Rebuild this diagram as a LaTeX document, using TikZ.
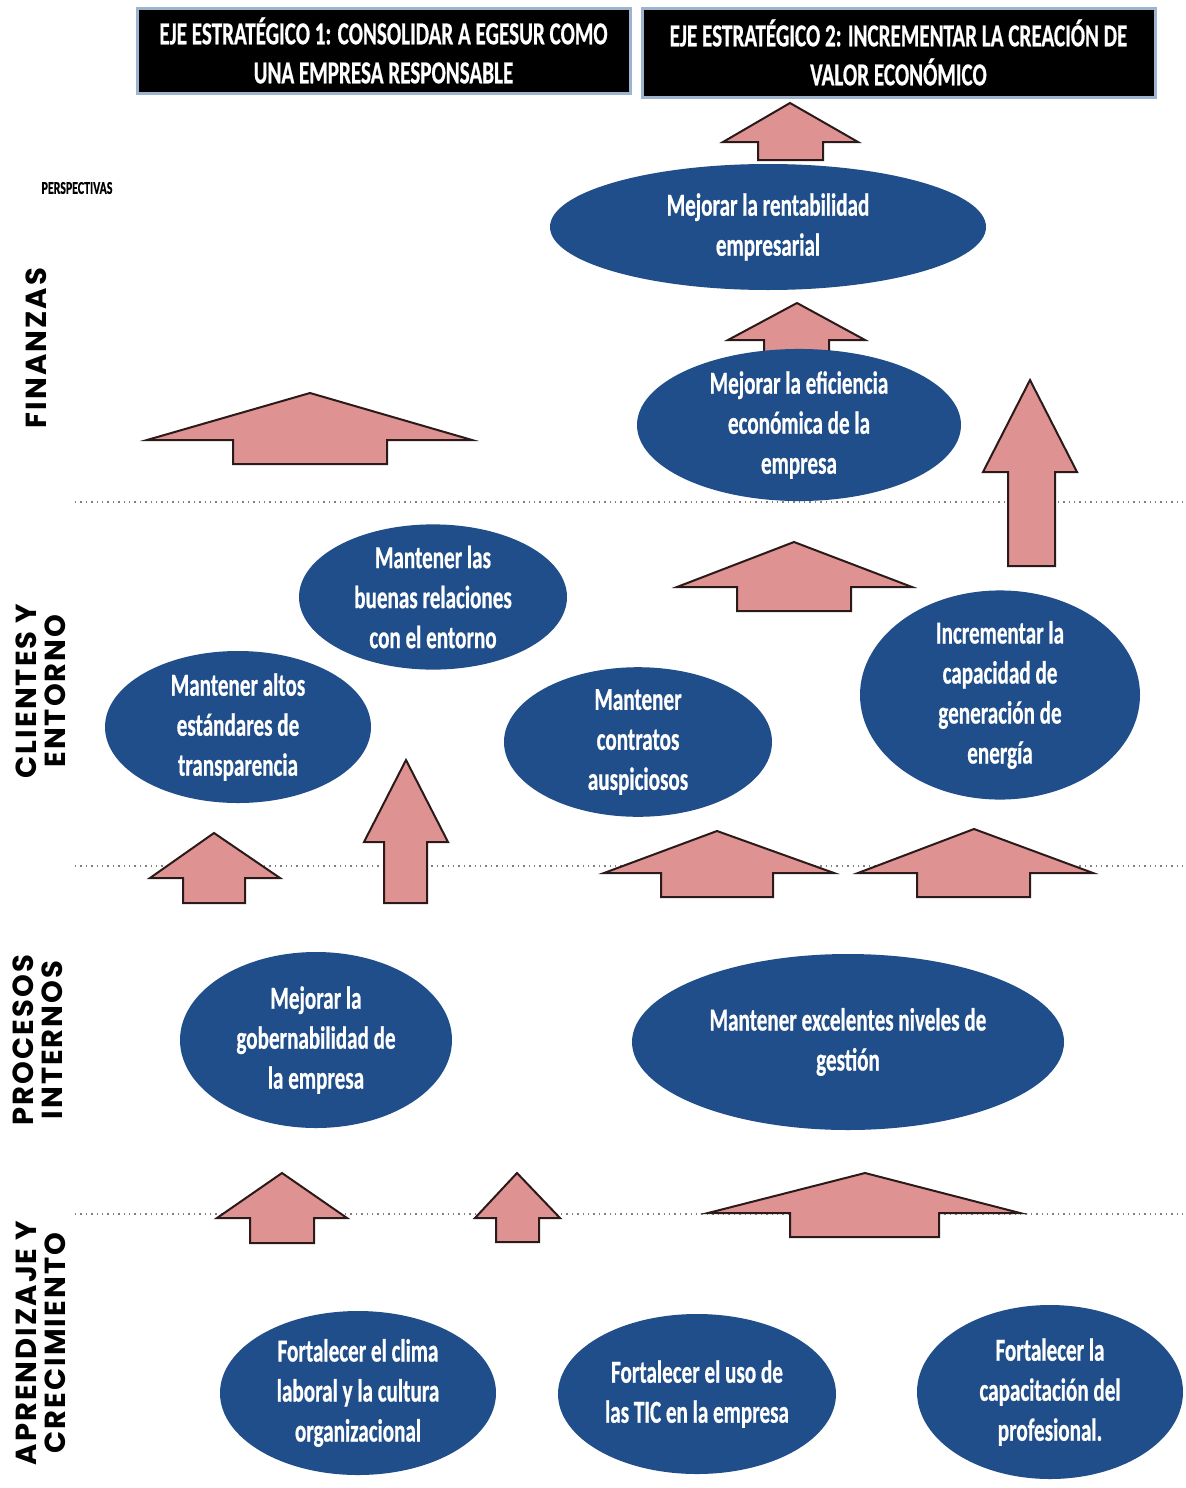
\documentclass[tikz,border=0pt]{standalone}
\usepackage{fontspec}
\usetikzlibrary{shapes.geometric}
\newfontfamily\calib[FakeStretch=0.66, BoldFeatures={FakeBold=0.6}]{Carlito}
\newfontfamily\gothic[LetterSpace=7]{Poppins}
\definecolor{ellblue}{HTML}{1F4E8A}
\definecolor{arrpink}{HTML}{DE9291}
\definecolor{arredge}{HTML}{2A1A1A}
\definecolor{boxedge}{HTML}{9DB3CE}
% up arrow: tipx, tipy, head base y, head left, head right, shaft left, shaft right, bottom y
\newcommand{\uparr}[8]{\draw[arr] (#1,#2) -- (#5,#3) -- (#7,#3) -- (#7,#8) -- (#6,#8) -- (#6,#3) -- (#4,#3) -- cycle;}
\begin{document}
\begin{tikzpicture}[x=0.5pt,y=-0.5pt,
  ell/.style={ellipse, fill=ellblue, inner sep=0pt, text=white, align=center,
    font=\calib\bfseries\fontsize{16}{20}\selectfont},
  es/.style 2 args={minimum width=#1pt, minimum height=#2pt},
  hdr/.style={rectangle, draw=boxedge, line width=1.5pt, fill=black, inner sep=0pt, text=white,
    align=center, font=\calib\bfseries\fontsize{16}{19.5}\selectfont},
  persp/.style={rotate=90, align=center, inner sep=0pt, font=\gothic\bfseries\fontsize{14.5}{14.5}\selectfont},
  arr/.style={fill=arrpink, draw=arredge, line width=1pt, line join=miter},
  sep/.style={draw=gray, dotted, line width=0.7pt}]
\fill[white] (0,0) rectangle (1186,1488);
\useasboundingbox (0,0) rectangle (1186,1488);

% headers
\node[hdr, minimum width=246.5pt, minimum height=42.5pt] (h1) at (383.5,50.5)
  {EJE ESTRATÉGICO 1: CONSOLIDAR A EGESUR COMO\\UNA EMPRESA RESPONSABLE};
\node[hdr, minimum width=256.5pt, minimum height=44.5pt] (h2) at (898.5,52.5)
  {EJE ESTRATÉGICO 2: INCREMENTAR LA CREACIÓN DE\\VALOR ECONÓMICO};

% perspective labels
\node[font=\calib\bfseries\fontsize{9}{10}\selectfont, inner sep=0pt] (pl) at (77,188) {PERSPECTIVAS};
\node[persp] (fin) at (36,348) {FINANZAS};
\node[persp] (cli) at (41,691) {CLIENTES Y\\ENTORNO};
\node[persp] (pro) at (38,1040) {PROCESOS\\INTERNOS};
\node[persp] (apr) at (41,1343) {APRENDIZAJE Y\\CRECIMIENTO};

% separators
\draw[sep] (75,502) -- (1186,502);
\draw[sep] (75,866) -- (1186,866);
\draw[sep] (75,1214) -- (1186,1214);

% arrows
\uparr{790}{103}{142}{723}{858}{758}{823}{160}
\uparr{797}{303}{340}{728}{865}{764}{829}{358}
\uparr{310}{393}{440}{147}{472}{233}{387}{464}
\uparr{1030}{380}{472}{983}{1077}{1008}{1055}{566}
\uparr{794}{542}{587}{677}{912}{737}{851}{611}
\uparr{214}{833}{878}{150}{280}{183}{245}{903}
\uparr{406}{760}{842}{364}{448}{384}{427}{903}
\uparr{717}{831}{873}{604}{834}{661}{773}{897}
\uparr{974}{829}{873}{858}{1093}{917}{1030}{897}
\uparr{282}{1173}{1218}{217}{347}{250}{314}{1243}
\uparr{517}{1173}{1218}{475}{560}{496}{539}{1242}
\uparr{865}{1173}{1213}{708}{1020}{790}{939}{1237}

% objectives
\node[ell, es={218}{63}] (e1) at (768,227) {Mejorar la rentabilidad\\empresarial};
\node[ell, es={162}{63}] (e2) at (799,425) {Mejorar la eficiencia\\económica de la\\empresa};
\node[ell, es={134}{70}] (e3) at (433,597) {Mantener las\\buenas relaciones\\con el entorno};
\node[ell, es={133}{67}] (e4) at (238,727) {Mantener altos\\estándares de\\transparencia};
\node[ell, es={134}{68}] (e5) at (638,742) {Mantener\\contratos\\auspiciosos};
\node[ell, es={140}{87}] (e6) at (1000,695) {Incrementar la\\capacidad de\\generación de\\energía};
\node[ell, es={136}{88}] (e7) at (316,1040) {Mejorar la\\gobernabilidad de\\la empresa};
\node[ell, es={216}{88}] (e8) at (848,1042) {Mantener excelentes niveles de\\gestión};
\node[ell, es={138}{82}] (e9) at (358,1393) {Fortalecer el clima\\laboral y la cultura\\organizacional};
\node[ell, es={139}{80}] (e10) at (697,1394) {Fortalecer el uso de\\las TIC en la empresa};
\node[ell, es={133}{87}] (e11) at (1050,1392) {Fortalecer la\\capacitación del\\profesional.};
\end{tikzpicture}
\end{document}
